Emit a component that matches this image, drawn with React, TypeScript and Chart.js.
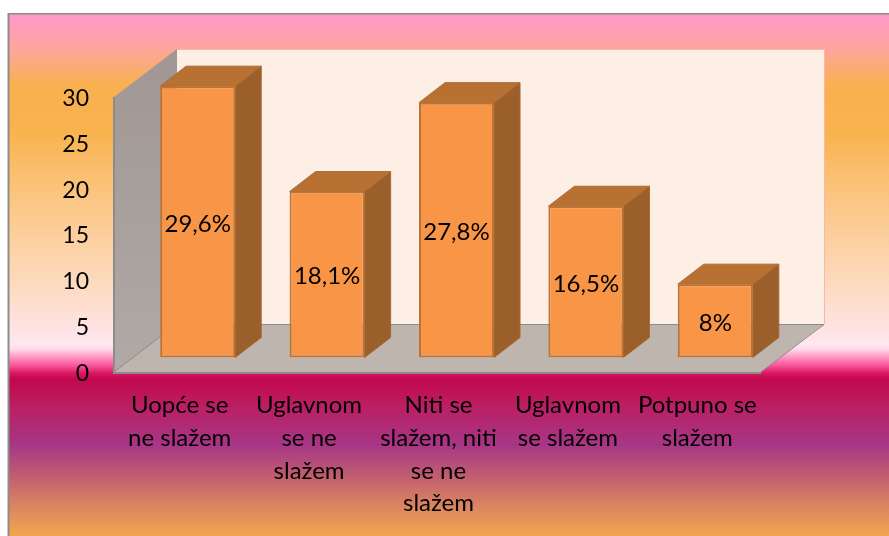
import React, { useEffect, useRef } from "react";
import { Chart, registerables } from "chart.js";

Chart.register(...registerables);

const categories: string[][] = [
  ["Uopće se", "ne slažem"],
  ["Uglavnom", "se ne", "slažem"],
  ["Niti se", "slažem, niti", "se ne", "slažem"],
  ["Uglavnom", "se slažem"],
  ["Potpuno se", "slažem"],
];
const values: number[] = [29.6, 18.1, 27.8, 16.5, 8];
const axisMax = 30;
const axisStep = 5;

const FONT = "Lato, Carlito, Calibri, sans-serif";
const FONT_SIZE = 24;
const TICK_FONT_SIZE = 23;

// 3D look
const WALL_DX = 63;
const WALL_DY = -48;
const BAR_SHIFT_X = 19;
const BAR_SHIFT_Y = -14.5;
const BAR_DX = 26;
const BAR_DY = -20;

const backgroundStops: [number, string][] = [
  [14, "#ff9bc6"],
  [22, "#ff9bc0"],
  [50, "#fda69a"],
  [85, "#f9b04f"],
  [130, "#f9b24d"],
  [200, "#fbc684"],
  [290, "#fddcc4"],
  [345, "#ffe6f1"],
  [350, "#ffd4e6"],
  [358, "#ff8fbd"],
  [366, "#f8509a"],
  [373, "#d81a62"],
  [379, "#c2074e"],
  [405, "#bb1e62"],
  [445, "#a73686"],
  [475, "#c05c70"],
  [505, "#d98462"],
  [536, "#f3a64e"],
];

const scene3d = {
  id: "scene3d",
  beforeDraw(chart: any) {
    const { ctx, width, height } = chart;
    ctx.save();
    ctx.fillStyle = "#ffffff";
    ctx.fillRect(0, 0, width, height);
    const g = ctx.createLinearGradient(0, 14, 0, 536);
    backgroundStops.forEach(([y, c]) => g.addColorStop((y - 14) / (536 - 14), c));
    ctx.fillStyle = g;
    ctx.fillRect(9, 14, width - 9, height - 14);
    ctx.fillStyle = "#8c8c8c";
    ctx.fillRect(8, 13, width - 8, 1.5);
    ctx.fillRect(7.5, 13, 2, height - 13);
    ctx.restore();
  },
  beforeDatasetsDraw(chart: any) {
    const { ctx, chartArea: a } = chart;
    const { left: l, right: r, top: t, bottom: b } = a;
    const dx = WALL_DX;
    const dy = WALL_DY;
    ctx.save();
    // back wall
    ctx.fillStyle = "#fdeee6";
    ctx.fillRect(l + dx, t + dy, r - l, b - t);
    ctx.strokeStyle = "#fbb9a0";
    ctx.lineWidth = 1;
    ctx.beginPath();
    ctx.moveTo(l + dx, t + dy + 0.5);
    ctx.lineTo(r + dx + 0.5, t + dy + 0.5);
    ctx.lineTo(r + dx + 0.5, b + dy);
    ctx.stroke();
    // side wall
    const wg = ctx.createLinearGradient(0, t + dy, 0, b);
    wg.addColorStop(0, "#a09794");
    wg.addColorStop(1, "#b0a9a5");
    ctx.fillStyle = wg;
    ctx.beginPath();
    ctx.moveTo(l, t);
    ctx.lineTo(l + dx, t + dy);
    ctx.lineTo(l + dx, b + dy);
    ctx.lineTo(l, b);
    ctx.closePath();
    ctx.fill();
    // floor
    ctx.fillStyle = "#bfb5af";
    ctx.beginPath();
    ctx.moveTo(l, b);
    ctx.lineTo(l + dx, b + dy);
    ctx.lineTo(r + dx, b + dy);
    ctx.lineTo(r, b);
    ctx.closePath();
    ctx.fill();
    // edges
    ctx.strokeStyle = "#8c8c8c";
    ctx.lineWidth = 1;
    ctx.beginPath();
    ctx.moveTo(l + dx, b + dy + 0.5);
    ctx.lineTo(r + dx, b + dy + 0.5);
    ctx.lineTo(r, b);
    ctx.moveTo(l, b);
    ctx.lineTo(l + dx, b + dy);
    ctx.stroke();
    ctx.lineWidth = 2;
    ctx.beginPath();
    ctx.moveTo(l, t);
    ctx.lineTo(l, b + 1);
    ctx.lineTo(r, b + 1);
    ctx.stroke();
    // bar side and top faces, behind the library's front faces
    const meta = chart.getDatasetMeta(0);
    meta.data.forEach((el: any) => {
      const { x, y, base, width: w } = el.getProps(["x", "y", "base", "width"], true);
      const x0 = x + BAR_SHIFT_X - w / 2;
      const x1 = x0 + w;
      const yt = y + BAR_SHIFT_Y;
      const yb = base + BAR_SHIFT_Y;
      ctx.lineWidth = 1;
      ctx.lineJoin = "round";
      ctx.fillStyle = "#9a5f2b";
      ctx.strokeStyle = "#a9682e";
      ctx.beginPath();
      ctx.moveTo(x1, yt);
      ctx.lineTo(x1 + BAR_DX, yt + BAR_DY);
      ctx.lineTo(x1 + BAR_DX, yb + BAR_DY);
      ctx.lineTo(x1, yb);
      ctx.closePath();
      ctx.fill();
      ctx.stroke();
      ctx.fillStyle = "#b97033";
      ctx.strokeStyle = "#b06a2f";
      ctx.beginPath();
      ctx.moveTo(x0, yt);
      ctx.lineTo(x0 + BAR_DX, yt + BAR_DY);
      ctx.lineTo(x1 + BAR_DX, yt + BAR_DY);
      ctx.lineTo(x1, yt);
      ctx.closePath();
      ctx.fill();
      ctx.stroke();
    });
    ctx.restore();
  },
  beforeDatasetDraw(chart: any) {
    chart.ctx.save();
    chart.ctx.translate(BAR_SHIFT_X, BAR_SHIFT_Y);
  },
  afterDatasetDraw(chart: any) {
    chart.ctx.restore();
  },
  afterDatasetsDraw(chart: any) {
    const { ctx } = chart;
    const meta = chart.getDatasetMeta(0);
    ctx.save();
    ctx.fillStyle = "#000000";
    ctx.font = `${FONT_SIZE}px ${FONT}`;
    ctx.textAlign = "center";
    ctx.textBaseline = "middle";
    meta.data.forEach((el: any, i: number) => {
      const { x, y, base } = el.getProps(["x", "y", "base"], true);
      const text = `${String(values[i]).replace(".", ",")}%`;
      ctx.fillText(text, x + BAR_SHIFT_X, (y + base) / 2 + BAR_SHIFT_Y + 2);
    });
    ctx.restore();
  },
};

export default function App() {
  const ref = useRef<HTMLCanvasElement>(null);
  useEffect(() => {
    const chart = new Chart(ref.current as HTMLCanvasElement, {
      type: "bar",
      data: {
        labels: categories,
        datasets: [
          {
            data: values,
            backgroundColor: "#f99546",
            borderColor: "#bc7434",
            borderWidth: 2,
            borderSkipped: false,
            barPercentage: 0.58,
            categoryPercentage: 1,
          },
        ],
      },
      options: {
        animation: false,
        responsive: false,
        layout: { autoPadding: false, padding: { left: 0, top: 97, right: 128, bottom: 0 } },
        plugins: { legend: { display: false }, title: { display: false }, tooltip: { enabled: false } },
        scales: {
          x: {
            grid: { display: false, drawTicks: false },
            border: { display: false },
            afterFit: (s: any) => { s.height = 164; },
            ticks: {
              color: "#000000",
              font: { family: FONT, size: FONT_SIZE, lineHeight: 1.365 },
              padding: 17,
              labelOffset: 1,
              maxRotation: 0,
              minRotation: 0,
              autoSkip: false,
            },
          },
          y: {
            min: 0,
            max: axisMax,
            grid: { display: false, drawTicks: false },
            border: { display: false },
            afterFit: (s: any) => { s.width = 114; },
            ticks: {
              stepSize: axisStep,
              color: "#000000",
              font: { family: FONT, size: TICK_FONT_SIZE },
              padding: 25,
              labelOffset: 1.5,
            },
          },
        },
      },
      plugins: [scene3d],
    } as any);
    return () => chart.destroy();
  }, []);
  return (
    <canvas
      ref={ref}
      width={889}
      height={536}
      style={{ position: "fixed", left: 0, top: 0, width: 889, height: 536, display: "block" }}
    />
  );
}
